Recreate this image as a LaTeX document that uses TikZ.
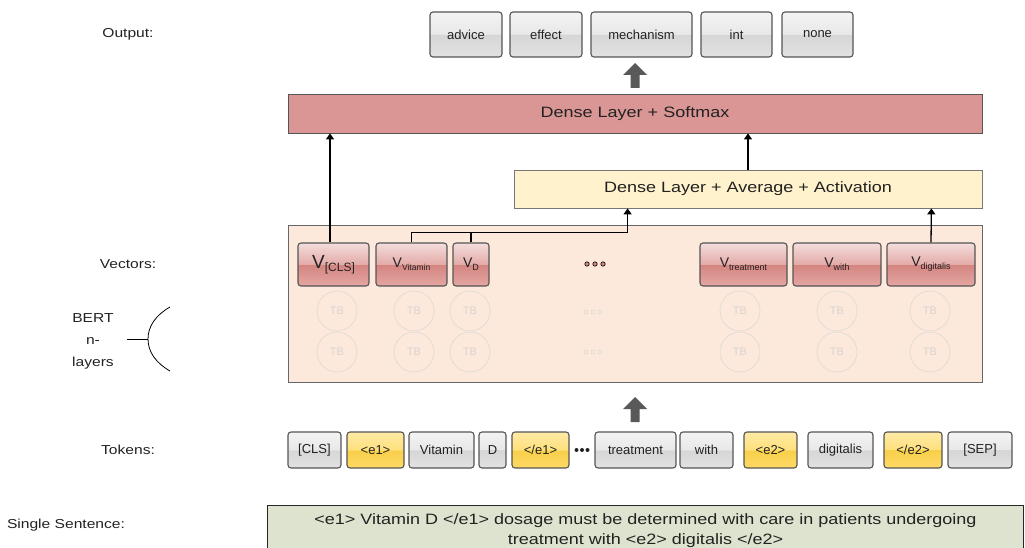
\documentclass[tikz,border=0pt]{standalone}
\usepackage{fontspec}
\setmainfont{Liberation Sans}
\newfontfamily\widefont[FakeStretch=1.2]{Liberation Sans}
\usetikzlibrary{arrows.meta,calc}

\definecolor{softred}{HTML}{D99694}
\definecolor{avgyellow}{HTML}{FFF2CC}
\definecolor{peach}{HTML}{FCE9DC}
\definecolor{sage}{HTML}{DDE3CE}
\definecolor{bord}{HTML}{555555}
\definecolor{tbline}{HTML}{E2DAD5}
\definecolor{tbtext}{HTML}{D9D3CF}
\definecolor{arrowgray}{HTML}{595959}
\definecolor{txt}{HTML}{222222}

\definecolor{gA}{HTML}{F3F3F3}
\definecolor{gB}{HTML}{E8E8E8}
\definecolor{gC}{HTML}{D6D6D6}
\definecolor{gD}{HTML}{E2E2E2}
\definecolor{yA}{HTML}{FFEAA6}
\definecolor{yB}{HTML}{FFE07C}
\definecolor{yC}{HTML}{F8CF4A}
\definecolor{yD}{HTML}{FFDA66}
\definecolor{pA}{HTML}{F3DDDC}
\definecolor{pB}{HTML}{E3ABA8}
\definecolor{pC}{HTML}{D4847F}
\definecolor{pD}{HTML}{E4A7A3}

\pgfdeclareverticalshading{glossgray}{100bp}{color(0bp)=(gD); color(25bp)=(gD); color(50bp)=(gC); color(50bp)=(gB); color(75bp)=(gA); color(100bp)=(gA)}
\pgfdeclareverticalshading{glossyellow}{100bp}{color(0bp)=(yD); color(25bp)=(yD); color(50bp)=(yC); color(50bp)=(yB); color(75bp)=(yA); color(100bp)=(yA)}
\pgfdeclareverticalshading{glosspink}{100bp}{color(0bp)=(pD); color(25bp)=(pD); color(50bp)=(pC); color(50bp)=(pB); color(75bp)=(pA); color(100bp)=(pA)}

\newcommand\vlab[3]{{\fontsize{#1}{#1}\selectfont V}\raisebox{-3pt}{\fontsize{#2}{#2}\selectfont #3}}

\begin{document}
\begin{tikzpicture}[x=1pt,y=-1pt,
  glossbox/.style={draw=bord, line width=1.1pt, rounded corners=3pt, inner sep=0pt, text=txt, font=\fontsize{13}{15}\selectfont},
  graybox/.style={glossbox, shade, shading=glossgray},
  yellowbox/.style={glossbox, shade, shading=glossyellow},
  vbox/.style={glossbox, shade, shading=glosspink, minimum height=43pt},
  outbox/.style={graybox, minimum height=45pt},
  tokbox/.style={graybox, minimum height=36pt},
  ytokbox/.style={yellowbox, minimum height=36pt},
  tb/.style={circle, draw=tbline, line width=0.7pt, minimum size=40pt, inner sep=0pt, text=tbtext, font=\fontsize{11}{13}\selectfont},
  conn/.style={draw=black, line width=1.3pt, -{Triangle[length=6pt,width=8pt]}},
  plainline/.style={draw=black, line width=1.3pt},
  sidelabel/.style={font=\widefont\fontsize{13}{22}\selectfont, text=txt, align=center},
  bigarrow/.style={fill=arrowgray}
]
\useasboundingbox (0,0) rectangle (1025,548);

% ---------- left labels ----------
\node[sidelabel] (lout) at (128,34) {Output:};
\node[sidelabel] (lvec) at (128,264) {Vectors:};
\node[sidelabel] (lbert) at (93,341) {BERT\\n-\\layers};
\node[sidelabel] (ltok) at (128,450) {Tokens:};
\node[sidelabel] (lsent) at (66,525) {Single Sentence:};
\coordinate (brl) at (127,339);
\coordinate (brm) at (148,339);
\coordinate (brt) at (170,307);
\coordinate (brb) at (170,371);
\draw[line width=0.8pt] (brl) -- (brm);
\draw[line width=0.8pt] (brt) .. controls (156,315) and (148,326) .. (brm) .. controls (148,352) and (156,363) .. (brb);

% ---------- output boxes ----------
\node[outbox, minimum width=72pt] (advice) at (466,34.5) {advice};
\node[outbox, minimum width=72pt] (effect) at (546,34.5) {effect};
\node[outbox, minimum width=101pt] (mech) at (641.5,34.5) {mechanism};
\node[outbox, minimum width=71pt] (int) at (736.5,34.5) {int};
\node[outbox, minimum width=71pt] (none) at (817.5,34.5) {none};

% big arrow softmax -> output
\coordinate (ba1) at (635,88);
\fill[bigarrow] ($(ba1)+(-4.5,0)$) -- ($(ba1)+(-4.5,-13)$) -- ($(ba1)+(-12,-13)$) -- ($(ba1)+(0,-25)$) -- ($(ba1)+(12,-13)$) -- ($(ba1)+(4.5,-13)$) -- ($(ba1)+(4.5,0)$) -- cycle;

% ---------- dense layers ----------
\node[draw=bord, line width=0.8pt, fill=softred, minimum width=694pt, minimum height=39pt, font=\widefont\fontsize{15}{17}\selectfont, text=txt] (soft) at (635,113.5) {Dense Layer + Softmax};
\node[draw=bord!80, line width=0.8pt, fill=avgyellow, minimum width=468pt, minimum height=38pt, font=\widefont\fontsize{15}{17}\selectfont, text=txt] (avg) at (748,189) {Dense Layer + Average + Activation};

% ---------- BERT block ----------
\node[draw=bord!90, line width=0.8pt, fill=peach, minimum width=694pt, minimum height=157pt] (bert) at (635,303.5) {};

\node[vbox, minimum width=71pt] (vcls) at (333.5,264.5) {\vlab{19}{12}{[CLS]}};
\node[vbox, minimum width=71pt] (vvit) at (411.5,264.5) {\vlab{14}{8.5}{Vitamin}};
\node[vbox, minimum width=36pt] (vd) at (471,264.5) {\vlab{14}{9}{D}};
\node[vbox, minimum width=87pt] (vtreat) at (743.5,264.5) {\vlab{14}{9}{treatment}};
\node[vbox, minimum width=88pt] (vwith) at (837,264.5) {\vlab{14}{9}{with}};
\node[vbox, minimum width=88pt] (vdig) at (931,264.5) {\vlab{14}{9}{digitalis}};

\foreach \x in {587,595,603} \filldraw[fill=pC, draw=black, line width=0.6pt] (\x,264) circle (2.2pt);
\foreach \y in {312,352} \foreach \x in {586,593,600} \draw[draw=tbline, line width=0.7pt] (\x,\y) circle (2pt);

\node[tb] (tb11) at (337,311) {TB};
\node[tb] (tb12) at (414,311) {TB};
\node[tb] (tb13) at (470,311) {TB};
\node[tb] (tb14) at (740,311) {TB};
\node[tb] (tb15) at (837,311) {TB};
\node[tb] (tb16) at (930,311) {TB};
\node[tb] (tb21) at (337,352) {TB};
\node[tb] (tb22) at (414,352) {TB};
\node[tb] (tb23) at (470,352) {TB};
\node[tb] (tb24) at (740,352) {TB};
\node[tb] (tb25) at (837,352) {TB};
\node[tb] (tb26) at (930,352) {TB};

% ---------- connectors ----------
\draw[conn] (vcls.north -| 330,0) -- (soft.south -| 330,0);
\draw[conn] (avg.north) -- (avg.north |- soft.south);
\coordinate (avgin) at ($(avg.south west)+(114,0)$);
\coordinate (avgin2) at ($(avg.south east)+(-51,0)$);
\draw[conn] (vvit.north) -- ++(0,-10) -| (avgin);
\draw[plainline] (vd.north) -- ++(0,-10);
\draw[conn] (vdig.north) -- (avgin2);

% big arrow tokens -> BERT
\coordinate (ba2) at (635,422);
\fill[bigarrow] ($(ba2)+(-4.5,0)$) -- ($(ba2)+(-4.5,-13)$) -- ($(ba2)+(-12,-13)$) -- ($(ba2)+(0,-25)$) -- ($(ba2)+(12,-13)$) -- ($(ba2)+(4.5,-13)$) -- ($(ba2)+(4.5,0)$) -- cycle;

% ---------- tokens ----------
\node[tokbox, minimum width=53pt] (tcls) at (314.5,450) {[CLS]};
\node[ytokbox, minimum width=57pt] (te1) at (375.5,450) {<e1>};
\node[tokbox, minimum width=65pt] (tvit) at (441.5,450) {Vitamin};
\node[tokbox, minimum width=27pt] (td) at (492.5,450) {D};
\node[ytokbox, minimum width=57pt] (te1c) at (540.5,450) {</e1>};
\foreach \x in {576.5,582,587.5} \fill[txt] (\x,450) circle (2pt);
\node[tokbox, minimum width=81pt] (ttreat) at (635.5,450) {treatment};
\node[tokbox, minimum width=53pt] (twith) at (706.5,450) {with};
\node[ytokbox, minimum width=53pt] (te2) at (770.5,450) {<e2>};
\node[tokbox, minimum width=65pt] (tdig) at (840.5,450) {digitalis};
\node[ytokbox, minimum width=58pt] (te2c) at (913,450) {</e2>};
\node[tokbox, minimum width=64pt] (tsep) at (980,450) {[SEP]};

% ---------- sentence ----------
\node[fill=sage, minimum width=755pt, minimum height=50pt, inner sep=0pt, align=center, text=txt, font=\widefont\fontsize{15}{20}\selectfont] (sent) at (645.5,531) {<e1> Vitamin D </e1> dosage must be determined with care in patients undergoing\\treatment with <e2> digitalis </e2>};
\draw[line width=0.9pt, draw=black!85] (sent.south west) |- (sent.north east) -- (sent.south east);
\end{tikzpicture}
\end{document}
